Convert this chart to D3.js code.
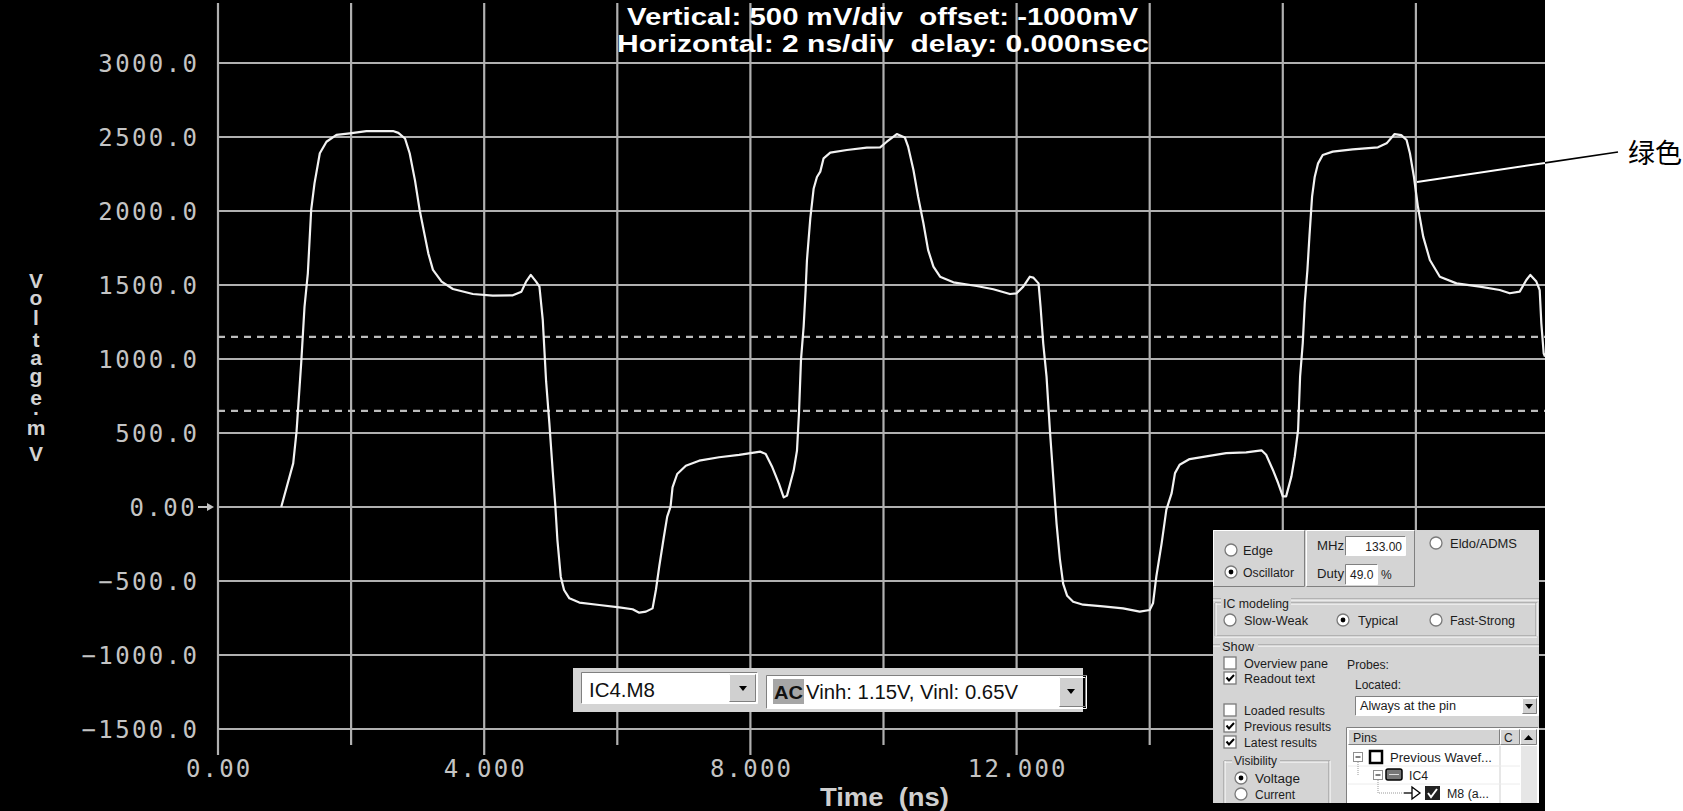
<!DOCTYPE html>
<html><head><meta charset="utf-8">
<script src="https://cdn.jsdelivr.net/npm/d3@7/dist/d3.min.js"></script>
<style>html,body{margin:0;padding:0;background:#000;overflow:hidden}text{white-space:pre}</style>
</head><body>
<svg id="c" width="1683" height="811"></svg>
<script>
// ---------------- data ----------------
const timeNs = [0.95,1.13,1.18,1.25,1.30,1.35,1.40,1.45,1.53,1.63,1.78,1.98,2.23,2.63,2.71,2.81,2.88,2.96,3.03,3.11,3.16,3.23,3.36,3.53,3.83,4.13,4.43,4.56,4.63,4.70,4.78,4.83,4.88,4.93,4.98,5.03,5.07,5.10,5.15,5.20,5.28,5.43,5.73,6.03,6.23,6.33,6.43,6.53,6.58,6.63,6.70,6.75,6.80,6.83,6.90,7.03,7.23,7.53,7.83,8.15,8.23,8.33,8.43,8.50,8.55,8.65,8.70,8.73,8.76,8.80,8.83,8.85,8.90,8.95,9.00,9.05,9.10,9.20,9.45,9.75,9.95,10.05,10.20,10.32,10.37,10.45,10.52,10.60,10.67,10.75,10.85,11.05,11.40,11.65,11.90,12.00,12.10,12.20,12.25,12.33,12.36,12.40,12.45,12.50,12.55,12.60,12.65,12.70,12.76,12.85,13.00,13.30,13.60,13.85,14.00,14.05,14.10,14.18,14.25,14.33,14.38,14.45,14.60,14.85,15.15,15.45,15.68,15.75,15.85,15.93,16.00,16.05,16.13,16.18,16.23,16.26,16.30,16.33,16.37,16.40,16.44,16.48,16.53,16.60,16.75,17.05,17.43,17.56,17.68,17.78,17.86,17.91,17.97,18.03,18.11,18.21,18.36,18.61,18.96,19.26,19.41,19.56,19.66,19.72,19.81,19.86,19.885,19.92,19.94];
const voltageMv = [0,295,509,971,1353,1579,2007,2187,2390,2468,2514,2525,2540,2540,2528,2490,2390,2207,2007,1827,1714,1602,1523,1473,1439,1428,1430,1455,1523,1568,1523,1489,1264,850,560,240,0,-223,-471,-561,-617,-646,-662,-678,-691,-714,-707,-685,-561,-403,-201,-65,2,133,223,279,313,336,352,374,358,268,156,65,77,246,381,633,993,1219,1466,1669,1950,2150,2230,2266,2356,2394,2412,2428,2430,2468,2520,2497,2435,2277,2097,1917,1737,1624,1556,1518,1493,1471,1439,1444,1489,1556,1550,1511,1354,1106,881,521,205,-110,-350,-520,-600,-640,-660,-672,-685,-707,-696,-651,-469,-244,-19,94,229,285,324,342,364,369,383,353,252,162,72,72,207,342,522,882,1107,1377,1602,1827,2097,2232,2322,2378,2401,2416,2430,2457,2520,2513,2480,2390,2232,2030,1827,1669,1556,1511,1489,1466,1444,1455,1534,1568,1523,1466,1241,1039,1016];
const yTickValues = [-1500,-1000,-500,0,500,1000,1500,2000,2500,3000];
const yTickLabels = ["\u22121500.0","\u22121000.0","\u2212500.0","0.00","500.0","1000.0","1500.0","2000.0","2500.0","3000.0"];
const xGridValues = [0,2,4,6,8,10,12,14,16,18];
const xTickValues = [0,4,8,12,16];
const xTickLabels = ["0.00","4.000","8.000","12.000","16.000"];
const thresholdMv = [1150, 650];
const titleLines = ["Vertical: 500 mV/div  offset: -1000mV", "Horizontal: 2 ns/div  delay: 0.000nsec"];
const xTitle = "Time  (ns)";
const yTitleChars = ["V","o","l","t","a","g","e",".","m","V"];
const annotationText = "绿色";
const probeName = "IC4.M8";
const probeInfo = "Vinh: 1.15V, Vinl: 0.65V";

// ---------------- drawing ----------------
const svg = d3.select("#c");
const x = d3.scaleLinear().domain([0, 19.94]).range([218, 1545]);
const y = d3.scaleLinear().domain([-1500, 3000]).range([729, 63]);

svg.append("rect").attr("x",0).attr("y",0).attr("width",1545).attr("height",811).attr("fill","#000");
svg.append("rect").attr("x",1545).attr("y",0).attr("width",138).attr("height",811).attr("fill","#fff");

const grid = svg.append("g").attr("stroke","#b0b0b0").attr("stroke-width",2.2);
grid.selectAll("line.h").data(yTickValues).join("line")
  .attr("x1",218).attr("x2",1545).attr("y1",d=>y(d)).attr("y2",d=>y(d));
grid.selectAll("line.v").data(xGridValues).join("line")
  .attr("x1",d=>x(d)).attr("x2",d=>x(d)).attr("y1",3).attr("y2",d=>d%4===0?755:745);

svg.append("g").selectAll("line").data(thresholdMv).join("line")
  .attr("x1",218).attr("x2",1545).attr("y1",d=>y(d)).attr("y2",d=>y(d))
  .attr("stroke","#bcbcbc").attr("stroke-width",2.2).attr("stroke-dasharray","7,6");

// title
const titleX = [627, 617], titleY = [25, 52], titleW = [511, 532];
svg.append("g").selectAll("text").data(titleLines).join("text")
  .attr("x",(d,i)=>titleX[i]).attr("y",(d,i)=>titleY[i])
  .attr("textLength",(d,i)=>titleW[i]).attr("lengthAdjust","spacingAndGlyphs")
  .attr("font-family","Liberation Sans, Arial, sans-serif").attr("font-weight","bold")
  .attr("font-size",23).attr("fill","#fff").text(d=>d);

// trace
const pts = timeNs.map((t,i)=>[t, voltageMv[i]]);
svg.append("path").datum(pts)
  .attr("d", d3.line().x(d=>x(d[0])).y(d=>y(d[1])))
  .attr("fill","none").attr("stroke","#f2f2f2").attr("stroke-width",2.2).attr("stroke-linejoin","round");

// y tick labels
const mono = "DejaVu Sans Mono, Liberation Mono, monospace";
svg.append("g").selectAll("text").data(yTickValues).join("text")
  .attr("x",d=>d===0?197:199.4).attr("y",d=>y(d)+9)
  .attr("text-anchor","end").attr("font-family",mono).attr("font-size",24)
  .attr("letter-spacing",2.4).attr("fill","#c4c4c4")
  .text((d,i)=>yTickLabels[i]);
// arrow at zero
svg.append("line").attr("x1",198).attr("x2",209).attr("y1",y(0)).attr("y2",y(0)).attr("stroke","#c4c4c4").attr("stroke-width",2);
svg.append("path").attr("d",`M214,${y(0)}L207,${y(0)-4}L207,${y(0)+4}Z`).attr("fill","#c4c4c4");

// x tick labels
svg.append("g").selectAll("text").data(xTickValues).join("text")
  .attr("x",d=>x(d)+1.2).attr("y",777)
  .attr("text-anchor","middle").attr("font-family",mono).attr("font-size",24)
  .attr("letter-spacing",2.2).attr("fill","#c4c4c4")
  .text((d,i)=>xTickLabels[i]);

// axis titles
svg.append("text").attr("x",820).attr("y",806).attr("textLength",129).attr("lengthAdjust","spacingAndGlyphs")
  .attr("font-family","Liberation Sans, Arial, sans-serif").attr("font-weight","bold").attr("font-size",26)
  .attr("fill","#cfcfcf").text(xTitle);
const yTitleBase = [288,305,325,347,365,383,405,415,435,461];
svg.append("g").selectAll("text").data(yTitleChars).join("text")
  .attr("x",36).attr("y",(d,i)=>yTitleBase[i]).attr("text-anchor","middle")
  .attr("font-family","Liberation Sans, Arial, sans-serif").attr("font-weight","bold").attr("font-size",21)
  .attr("fill","#d2d2d2").text(d=>d);

// annotation
svg.append("line").attr("x1",1417).attr("y1",182).attr("x2",1545).attr("y2",162.9).attr("stroke","#fff").attr("stroke-width",2);
svg.append("line").attr("x1",1545).attr("y1",162.9).attr("x2",1618).attr("y2",152).attr("stroke","#000").attr("stroke-width",1.6);
svg.append("text").attr("x",1628).attr("y",163).attr("font-family","Noto Sans CJK SC, sans-serif")
  .attr("font-size",27).attr("fill","#000").text(annotationText);

// ---------- UI helpers ----------
const ui = "Liberation Sans, Arial, sans-serif";
function bevel(g, x0, y0, w, h, raised) {
  g.append("path").attr("d",`M${x0},${y0+h}V${y0}H${x0+w}`).attr("fill","none").attr("stroke",raised?"#fff":"#808080");
  g.append("path").attr("d",`M${x0+w},${y0}V${y0+h}H${x0}`).attr("fill","none").attr("stroke",raised?"#808080":"#fff");
}
function label(g, x0, y0, txt, size, opts={}) {
  const t = g.append("text").attr("x",x0).attr("y",y0).attr("font-family",ui).attr("font-size",size||12)
    .attr("fill",opts.fill||"#1c1c1c").text(txt);
  if (opts.bold) t.attr("font-weight","bold");
  if (opts.anchor) t.attr("text-anchor",opts.anchor);
  if (opts.len) t.attr("textLength",opts.len).attr("lengthAdjust","spacingAndGlyphs");
  return t;
}
function radio(g, cx, cy, on) {
  g.append("circle").attr("cx",cx).attr("cy",cy).attr("r",6).attr("fill","#fff").attr("stroke","#7a7a7a").attr("stroke-width",1.3);
  if (on) g.append("circle").attr("cx",cx).attr("cy",cy).attr("r",2.4).attr("fill","#000");
}
function check(g, x0, y0, on) {
  g.append("rect").attr("x",x0).attr("y",y0).attr("width",12).attr("height",12).attr("fill","#fff").attr("stroke","#7a7a7a").attr("stroke-width",1.3);
  if (on) g.append("path").attr("d",`M${x0+2.5},${y0+5.5}L${x0+5},${y0+8.5}L${x0+10},${y0+3}`).attr("fill","none").attr("stroke","#000").attr("stroke-width",2);
}
function arrowDown(g, cx, cy) {
  g.append("path").attr("d",`M${cx-4},${cy-2}H${cx+4}L${cx},${cy+3}Z`).attr("fill","#000");
}

// ---------- bottom combo boxes ----------
const cb = svg.append("g");
cb.append("rect").attr("x",573).attr("y",668).attr("width",510).attr("height",44).attr("fill","#d4d4d4");
cb.append("rect").attr("x",582).attr("y",673).attr("width",175).attr("height",30).attr("fill","#fff");
bevel(cb,581.5,672.5,176,31,false);
cb.append("rect").attr("x",729).attr("y",674).attr("width",27).attr("height",28).attr("fill","#d0d0d0");
bevel(cb,729.5,674.5,26,27,true);
arrowDown(cb,743,688);
label(cb,589,697,probeName,20,{fill:"#111",len:66});
cb.append("rect").attr("x",767).attr("y",676).attr("width",316).attr("height",32).attr("fill","#fff");
bevel(cb,766.5,675.5,320,33,false);
cb.append("rect").attr("x",773).attr("y",679).attr("width",31).attr("height",25).attr("fill","#a6a6a6");
label(cb,774,699,"AC",19,{bold:true,fill:"#111",len:29});
label(cb,806,699,probeInfo,20,{fill:"#111",len:212});
cb.append("rect").attr("x",1059).attr("y",677).attr("width",24).attr("height",30).attr("fill","#d0d0d0");
bevel(cb,1059.5,677.5,26,29,true);
arrowDown(cb,1071,691);

// ---------- right dialog panel ----------
svg.append("clipPath").attr("id","pc").append("rect").attr("x",1213).attr("y",530).attr("width",326).attr("height",273);
const p = svg.append("g").attr("clip-path","url(#pc)");
p.append("rect").attr("x",1213).attr("y",530).attr("width",326).attr("height",273).attr("fill","#d4d4d4");
bevel(p,1213.5,530.5,91,56,true);
bevel(p,1306.5,530.5,108,56,true);
radio(p,1231,550,false); label(p,1243,555,"Edge",12,{len:30});
radio(p,1231,572,true); label(p,1243,577,"Oscillator",12,{len:51});
label(p,1317,550,"MHz",12,{len:27});
p.append("rect").attr("x",1346).attr("y",537).attr("width",59).attr("height",18).attr("fill","#fff");
bevel(p,1345.5,536.5,60,19,false);
label(p,1402,551,"133.00",12,{anchor:"end"});
label(p,1317,578,"Duty",12,{len:27});
p.append("rect").attr("x",1346).attr("y",565).attr("width",32).attr("height",19).attr("fill","#fff");
bevel(p,1345.5,564.5,32,20,false);
label(p,1350,579,"49.0",12);
label(p,1381,579,"%",12);
radio(p,1436,543,false); label(p,1450,548,"Eldo/ADMS",12,{len:67});

// etched separators / group boxes
function etchH(x1,x2,yy){ p.append("line").attr("x1",x1).attr("x2",x2).attr("y1",yy).attr("y2",yy).attr("stroke","#909090");
  p.append("line").attr("x1",x1).attr("x2",x2).attr("y1",yy+1).attr("y2",yy+1).attr("stroke","#fff"); }
function etchV(xx,y1,y2){ p.append("line").attr("x1",xx).attr("x2",xx).attr("y1",y1).attr("y2",y2).attr("stroke","#909090");
  p.append("line").attr("x1",xx+1).attr("x2",xx+1).attr("y1",y1).attr("y2",y2).attr("stroke","#fff"); }
etchH(1213,1539,599);
etchH(1215,1537,603); etchH(1215,1537,636); etchV(1215,603,636); etchV(1536,603,636);
p.append("rect").attr("x",1221).attr("y",597).attr("width",70).attr("height",12).attr("fill","#d4d4d4");
label(p,1223,608,"IC modeling",12,{len:66});
radio(p,1230,620,false); label(p,1244,625,"Slow-Weak",12,{len:64});
radio(p,1343,620,true); label(p,1358,625,"Typical",12,{len:40});
radio(p,1436,620,false); label(p,1450,625,"Fast-Strong",12,{len:65});

etchH(1213,1539,645);
p.append("rect").attr("x",1220).attr("y",640).attr("width",38).attr("height",12).attr("fill","#d4d4d4");
label(p,1222,651,"Show",12,{len:32});
check(p,1224,657,false); label(p,1244,668,"Overview pane",12,{len:84});
check(p,1224,672,true); label(p,1244,683,"Readout text",12,{len:71});
check(p,1224,704,false); label(p,1244,715,"Loaded results",12,{len:81});
check(p,1224,720,true); label(p,1244,731,"Previous results",12,{len:87});
check(p,1224,736,true); label(p,1244,747,"Latest results",12,{len:73});
label(p,1347,669,"Probes:",12,{len:42});
label(p,1355,689,"Located:",12,{len:46});
p.append("rect").attr("x",1356).attr("y",697).attr("width",182).attr("height",18).attr("fill","#fff");
bevel(p,1355.5,696.5,183,19,false);
label(p,1360,710,"Always at the pin",12,{len:96});
p.append("rect").attr("x",1522).attr("y",698).attr("width",15).attr("height",16).attr("fill","#d0d0d0");
bevel(p,1522.5,698.5,14,15,true);
arrowDown(p,1529,706);

// visibility group
etchH(1224,1330,761); etchV(1224,761,810); etchV(1329,761,810);
p.append("rect").attr("x",1232).attr("y",755).attr("width",48).attr("height",12).attr("fill","#d4d4d4");
label(p,1234,765,"Visibility",12,{len:43});
radio(p,1241,778,true); label(p,1255,783,"Voltage",12,{len:45});
radio(p,1241,794,false); label(p,1255,799,"Current",12,{len:40});

// pins list
p.append("rect").attr("x",1347).attr("y",728).attr("width",191).attr("height",80).attr("fill","#fff");
bevel(p,1346.5,727.5,192,80,false);
p.append("rect").attr("x",1348).attr("y",729).attr("width",189).attr("height",16).attr("fill","#d4d4d4");
bevel(p,1348.5,729.5,151,15,true); bevel(p,1500.5,729.5,19,15,true); bevel(p,1520.5,729.5,16,15,true);
label(p,1353,742,"Pins",12,{len:24});
label(p,1504,742,"C",12);
p.append("path").attr("d","M1524,740H1533L1528.5,735Z").attr("fill","#000");
p.append("rect").attr("x",1521).attr("y",746).attr("width",16).attr("height",60).attr("fill","#e6e6e6");
p.append("line").attr("x1",1500).attr("x2",1500).attr("y1",746).attr("y2",806).attr("stroke","#cfcfcf");
p.append("line").attr("x1",1348).attr("x2",1520).attr("y1",766).attr("y2",766).attr("stroke","#ececec");
p.append("line").attr("x1",1348).attr("x2",1520).attr("y1",784).attr("y2",784).attr("stroke","#ececec");
// row 1
p.append("rect").attr("x",1353.5).attr("y",752.5).attr("width",9).attr("height",9).attr("fill","#fff").attr("stroke","#909090");
p.append("line").attr("x1",1355.5).attr("x2",1360.5).attr("y1",757).attr("y2",757).attr("stroke","#000");
p.append("rect").attr("x",1370).attr("y",751).attr("width",12).attr("height",12).attr("fill","#fff").attr("stroke","#000").attr("stroke-width",2.5);
label(p,1390,762,"Previous Wavef...",12,{len:102});
// row 2
p.append("line").attr("x1",1358).attr("x2",1358).attr("y1",762).attr("y2",775).attr("stroke","#999").attr("stroke-dasharray","1,1");
p.append("rect").attr("x",1373.5).attr("y",770.5).attr("width",9).attr("height",9).attr("fill","#fff").attr("stroke","#909090");
p.append("line").attr("x1",1375.5).attr("x2",1380.5).attr("y1",775).attr("y2",775).attr("stroke","#000");
p.append("rect").attr("x",1386).attr("y",769).attr("width",16).attr("height",11).attr("rx",2).attr("fill","#777").attr("stroke","#000").attr("stroke-width",1.5);
p.append("line").attr("x1",1389).attr("x2",1399).attr("y1",774.5).attr("y2",774.5).attr("stroke","#ddd");
label(p,1409,780,"IC4",12,{len:19});
// row 3
p.append("path").attr("d","M1378,780V793H1404").attr("fill","none").attr("stroke","#999").attr("stroke-dasharray","1,1");
p.append("line").attr("x1",1404).attr("x2",1412).attr("y1",793).attr("y2",793).attr("stroke","#000").attr("stroke-width",1.3);
p.append("path").attr("d","M1412,787L1420,793L1412,799Z").attr("fill","#fff").attr("stroke","#000").attr("stroke-width",1.3);
p.append("rect").attr("x",1425).attr("y",786).attr("width",15).attr("height",14).attr("fill","#222");
p.append("path").attr("d","M1428,793L1431,797L1437,789").attr("fill","none").attr("stroke","#fff").attr("stroke-width",2);
label(p,1447,798,"M8 (a...",12,{len:42});
</script>
</body></html>
